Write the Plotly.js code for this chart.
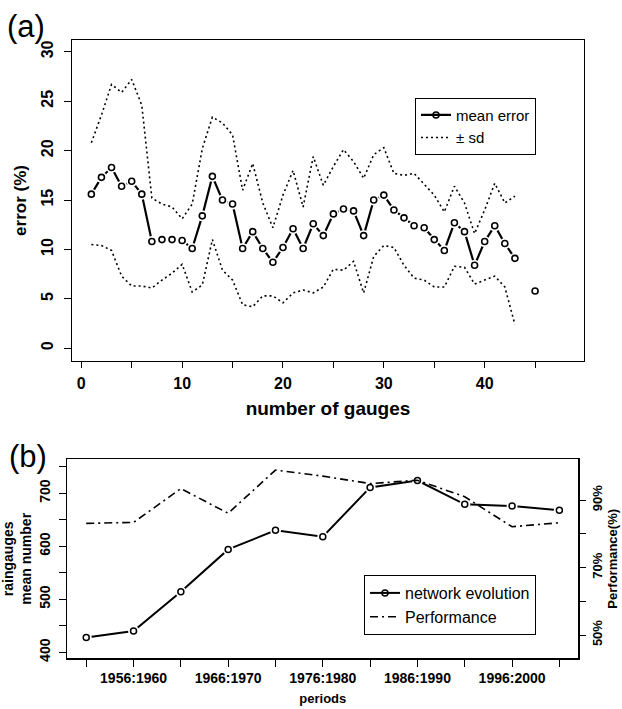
<!DOCTYPE html>
<html>
<head>
<meta charset="utf-8">
<script src="https://cdn.plot.ly/plotly-3.0.1.min.js"></script>
<style>html,body{margin:0;padding:0;background:#fff;}#chart{width:622px;height:709px;}</style>
</head>
<body>
<div id="chart"></div>
<script>
// ---------- Panel (a) data ----------
var gaugesMeanX = [1,2,3,4,5,6,7,8,9,10,11,12,13,14,15,16,17,18,19,20,21,22,23,24,25,26,27,28,29,30,31,32,33,34,35,36,37,38,39,40,41,42,43,45];
var meanError = [15.6,17.3,18.3,16.4,16.9,15.6,10.8,11.0,11.0,10.9,10.1,13.4,17.4,15.0,14.6,10.1,11.8,10.1,8.7,10.2,12.1,10.1,12.6,11.4,13.6,14.1,13.9,11.4,15.0,15.5,14.0,13.2,12.4,12.2,11.0,9.9,12.7,11.8,8.4,10.8,12.4,10.6,9.1,5.8];
var gaugesSdX = [1,2,3,4,5,6,7,8,9,10,11,12,13,14,15,16,17,18,19,20,21,22,23,24,25,26,27,28,29,30,31,32,33,34,35,36,37,38,39,40,41,42,43];
var sdUpper = [20.8,23.6,26.7,25.9,27.2,24.6,15.2,14.6,14.3,13.1,14.6,20.2,23.4,22.8,21.6,16.0,18.7,14.7,12.2,15.5,18.0,14.3,19.4,16.5,18.4,20.1,18.9,17.2,19.6,20.3,17.7,17.5,17.7,16.6,15.5,13.8,16.4,14.7,11.6,14.0,16.7,14.7,15.4];
var sdLower = [10.5,10.4,9.9,7.3,6.3,6.3,6.1,6.9,7.6,8.5,5.7,6.4,11.0,7.9,6.9,4.4,4.2,5.3,5.3,4.6,5.6,5.9,5.6,6.2,8.0,7.9,8.8,5.6,9.3,10.4,10.2,8.4,7.1,6.9,6.2,6.2,8.3,8.2,6.5,6.9,7.3,6.2,2.4];
var aXTickVals = [0,5,10,15,20,25,30,35,40,45];
var aXTickText = ['0','','10','','20','','30','','40',''];
var aYTickVals = [0,5,10,15,20,25,30];
var aYTickText = ['0','5','10','15','20','25','30'];

// ---------- Panel (b) data ----------
var periods = ['1951:1955','1956:1960','1961:1965','1966:1970','1971:1975','1976:1980','1981:1985','1986:1990','1991:1995','1996:2000','2001:2005'];
var periodLabels = ['','1956:1960','','1966:1970','','1976:1980','','1986:1990','','1996:2000',''];
var networkMean = [428,440,514,594,630,618,711,724,679,676,668];
var performance = [83.1,83.4,93.4,86.1,98.9,97.1,94.9,95.9,91.0,82.1,83.3];
var bYTickVals = [400,450,500,550,600,650,700,750];
var bYTickText = ['400','','500','','600','','700',''];
var bY2TickVals = [50,60,70,80,90];
var bY2TickText = ['50%','','70%','','90%'];

function withGaps(xs, ys){
  var ox=[], oy=[];
  for (var i=0;i<xs.length;i++){
    if (i>0 && xs[i]-xs[i-1]>1){ ox.push(null); oy.push(null); }
    ox.push(xs[i]); oy.push(ys[i]);
  }
  return {x:ox, y:oy};
}
var meanLine = withGaps(gaugesMeanX, meanError);
var periodIdx = periods.map(function(_,i){return i+1;});

var FONT = 'Liberation Sans, Arial, Helvetica, sans-serif';
var traces = [
  {x: meanLine.x, y: meanLine.y, xaxis:'x', yaxis:'y', mode:'lines+markers', name:'mean error',
   line:{color:'black', width:2.2}, marker:{symbol:'circle-open', size:6, color:'black', line:{width:1.6}},
   connectgaps:false, legend:'legend'},
  {x: gaugesMeanX, y: meanError, xaxis:'x', yaxis:'y', mode:'markers', showlegend:false, hoverinfo:'skip',
   marker:{symbol:'circle', size:11, color:'white', line:{width:0}}},
  {x: gaugesMeanX, y: meanError, xaxis:'x', yaxis:'y', mode:'markers', showlegend:false,
   marker:{symbol:'circle-open', size:6, color:'black', line:{width:1.6}}},
  {x: gaugesSdX, y: sdUpper, xaxis:'x', yaxis:'y', mode:'lines', name:'± sd',
   line:{color:'black', width:1.6, dash:'2px,3px'}, legend:'legend'},
  {x: gaugesSdX, y: sdLower, xaxis:'x', yaxis:'y', mode:'lines', showlegend:false,
   line:{color:'black', width:1.6, dash:'2px,3px'}},
  {x: periodIdx, y: networkMean, xaxis:'x2', yaxis:'y2', mode:'lines+markers', name:'network evolution',
   line:{color:'black', width:2}, marker:{symbol:'circle-open', size:6, color:'black', line:{width:1.5}},
   legend:'legend2'},
  {x: periodIdx, y: networkMean, xaxis:'x2', yaxis:'y2', mode:'markers', showlegend:false, hoverinfo:'skip',
   marker:{symbol:'circle', size:11, color:'white', line:{width:0}}},
  {x: periodIdx, y: networkMean, xaxis:'x2', yaxis:'y2', mode:'markers', showlegend:false,
   marker:{symbol:'circle-open', size:6, color:'black', line:{width:1.5}}},
  {x: periodIdx, y: performance, xaxis:'x2', yaxis:'y3', mode:'lines', name:'Performance',
   line:{color:'black', width:1.6, dash:'8px,4px,2px,4px'}, legend:'legend2'}
];

function W(px){return px/622;}
function H(py){return 1-py/709;}

var axBase = {showline:true, linecolor:'black', linewidth:1.2, mirror:true, showgrid:false, zeroline:false,
  ticks:'outside', tickcolor:'black', tickwidth:1, fixedrange:true};
function ax(extra){ var o={}; for (var k in axBase) o[k]=axBase[k]; for (var k2 in extra) o[k2]=extra[k2]; return o; }

var layout = {
  width:622, height:709,
  margin:{l:0,r:0,t:0,b:0},
  paper_bgcolor:'white', plot_bgcolor:'white',
  font:{family:FONT, color:'black'},
  showlegend:true,
  xaxis: ax({domain:[W(72),W(584)], range:[-0.92,49.85], anchor:'y',
    tickmode:'array', tickvals:aXTickVals, ticktext:aXTickText, ticklen:6, ticklabelstandoff:2,
    tickfont:{size:16, weight:'bold'},
    title:{text:'number of gauges', font:{size:19, weight:'bold'}, standoff:10}}),
  yaxis: ax({domain:[H(361),H(40)], range:[-1.29,31.2], anchor:'x',
    tickmode:'array', tickvals:aYTickVals, ticktext:aYTickText, ticklen:7, tickangle:-90, ticklabelstandoff:4,
    tickfont:{size:16, weight:'bold'},
    title:{text:'error (%)', font:{size:17, weight:'bold'}, standoff:8}}),
  xaxis2: ax({domain:[W(67.3),W(578.3)], range:[0.6,11.4], anchor:'y2',
    tickmode:'array', tickvals:periodIdx, ticktext:periodLabels, ticklen:7, ticklabelstandoff:0,
    tickfont:{size:14, weight:'bold'},
    title:{text:'periods', font:{size:13, weight:'bold'}, standoff:8}}),
  yaxis2: ax({domain:[H(658.3),H(459.3)], range:[388.7,764], anchor:'x2',
    tickmode:'array', tickvals:bYTickVals, ticktext:bYTickText, ticklen:7, tickangle:-90, ticklabelstandoff:4,
    tickfont:{size:14, weight:'bold'},
    title:{text:'raingauges<br>mean number', font:{size:14, weight:'bold'}, standoff:6}}),
  yaxis3: {overlaying:'y2', side:'right', anchor:'x2', range:[43.1,102.1], showgrid:false, zeroline:false,
    showline:false, ticks:'outside', tickcolor:'black', tickwidth:1, ticklen:7, tickangle:-90,
    tickmode:'array', tickvals:bY2TickVals, ticktext:bY2TickText, fixedrange:true,
    tickfont:{size:13, weight:'bold'},
    title:{text:'Performance(%)', font:{size:13, weight:'bold'}, standoff:4}},
  legend: {x:W(415), y:H(97.7), xanchor:'left', yanchor:'top', bgcolor:'white', bordercolor:'black', borderwidth:1,
    font:{size:15, family:FONT}, itemwidth:30, tracegroupgap:0},
  legend2: {x:W(364), y:H(575), xanchor:'left', yanchor:'top', bgcolor:'white', bordercolor:'black', borderwidth:1,
    font:{size:16, family:FONT}, itemwidth:30, tracegroupgap:0},
  annotations: [
    {text:'(a)', xref:'paper', yref:'paper', x:W(5), y:H(7), xanchor:'left', yanchor:'top', showarrow:false, font:{size:31}},
    {text:'(b)', xref:'paper', yref:'paper', x:W(7), y:H(437), xanchor:'left', yanchor:'top', showarrow:false, font:{size:31}}
  ]
};

Plotly.newPlot('chart', traces, layout, {staticPlot:true, displayModeBar:false});
</script>
</body>
</html>
